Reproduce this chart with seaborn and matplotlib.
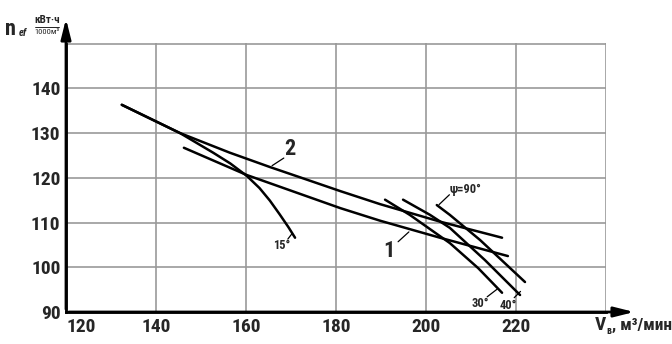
import matplotlib
matplotlib.use("Agg")
import matplotlib.pyplot as plt
from matplotlib import font_manager
import seaborn as sns
import pandas as pd

# curves (V, m3/min  ->  n, kWh/1000m3)
curve2_x = [132.4, 145.3, 156.4, 165.3, 172.0, 181.0, 189.8, 203.1, 216.9]
curve2_y = [136.3, 130.0, 125.6, 122.4, 120.1, 117.0, 114.1, 110.2, 106.6]

curve1_x = [146.2, 160.2, 172.0, 181.0, 189.8, 203.1, 218.2]
curve1_y = [126.7, 120.6, 116.4, 113.2, 110.4, 106.6, 102.5]

psi15_x = [132.4, 145.3, 152.7, 156.5, 160.2, 163.0, 165.3, 167.5, 169.4, 170.9]
psi15_y = [136.3, 130.0, 125.6, 123.2, 120.4, 117.7, 114.9, 111.8, 109.0, 106.6]

psi30_x = [190.9, 196.4, 205.3, 211.6, 216.9]
psi30_y = [115.1, 111.7, 105.4, 99.8, 94.3]

psi40_x = [194.9, 200.9, 205.3, 213.1, 220.9]
psi40_y = [115.1, 111.7, 108.8, 101.6, 93.8]

psi90_x = [202.4, 205.3, 212.0, 222.0]
psi90_y = [113.9, 111.7, 106.1, 96.7]

x_ticks = [120, 140, 160, 180, 200, 220, 240]
x_labels = ["120", "140", "160", "180", "200", "220", ""]
y_ticks = [90, 100, 110, 120, 130, 140, 150]
y_labels = ["90", "100", "110", "120", "130", "140", ""]

sns.set_theme(style="white")
names = {f.name for f in font_manager.fontManager.ttflist}
fam = "DejaVu Sans"
for cand in ["Roboto Condensed", "Liberation Sans Narrow", "Roboto"]:
    if cand in names:
        fam = cand
        break
plt.rcParams["font.family"] = [fam, "DejaVu Sans"]

rows = []
for name, xs, ys in [("2", curve2_x, curve2_y), ("1", curve1_x, curve1_y),
                     ("15", psi15_x, psi15_y), ("30", psi30_x, psi30_y),
                     ("40", psi40_x, psi40_y), ("90", psi90_x, psi90_y)]:
    for i, (a, b) in enumerate(zip(xs, ys)):
        rows.append({"curve": name, "order": i, "V": a, "n": b})
data = pd.DataFrame(rows)

fig = plt.figure(figsize=(6.72, 3.44), dpi=100)
ax = fig.add_axes([66 / 672, 32 / 344, 540 / 672, 268.5 / 344])

g = sns.lineplot(data=data, x="V", y="n", units="curve", estimator=None,
                 sort=False, color="black", lw=1.8, ax=ax)

ax.set_xlim(120, 240)
ax.set_ylim(90, 150)
ax.set_xticks(x_ticks)
ax.set_xticklabels(x_labels)
ax.set_yticks(y_ticks)
ax.set_yticklabels(y_labels)
ax.set_xlabel("")
ax.set_ylabel("")
ax.grid(True, color="#999999", lw=1.2)
ax.tick_params(length=0, labelsize=14, pad=4)
for t in ax.get_xticklabels() + ax.get_yticklabels():
    t.set_fontweight("bold")
ax.get_xticklabels()[0].set_horizontalalignment("left")
for s in ["top", "right"]:
    ax.spines[s].set_visible(False)
for s in ["left", "bottom"]:
    ax.spines[s].set_color("black")
    ax.spines[s].set_linewidth(2)

# axis arrows
arr = dict(arrowstyle="-|>,head_length=1.0,head_width=0.25", color="black", lw=2)
ax.annotate("", xy=(637, 32), xytext=(66, 32), xycoords="figure pixels",
            textcoords="figure pixels", arrowprops=arr)
ax.annotate("", xy=(66, 328), xytext=(66, 32), xycoords="figure pixels",
            textcoords="figure pixels", arrowprops=arr)

# curve labels with leaders
lbl = [("2", 169.8, 126.4, 168.4, 124.4, 165.8, 122.7, 16),
       ("1", 191.8, 103.6, 193.8, 105.7, 196.2, 107.9, 16),
       ("15°", 168.0, 104.8, 169.3, 106.3, 170.3, 107.6, 9),
       ("30°", 212.0, 92.0, 213.6, 93.4, 215.8, 95.1, 9),
       ("40°", 218.2, 91.5, 219.6, 93.2, 221.0, 94.6, 9),
       ("ψ=90°", 208.8, 117.3, 205.2, 116.2, 202.9, 114.0, 9)]
for txt, tx, ty, x0, y0, x1, y1, fs in lbl:
    ax.plot([x0, x1], [y0, y1], color="black", lw=0.9)
    ax.text(tx, ty, txt, fontsize=fs, fontweight="bold", ha="center", va="center")

# axis titles
fig.text(5 / 672, 1 - 29 / 344, "n", fontsize=16, fontweight="bold", va="center")
fig.text(19 / 672, 1 - 33 / 344, "ef", fontsize=7.5, fontstyle="italic",
         fontweight="bold", va="center")
fig.text(47 / 672, 1 - 20 / 344, "кВт·ч", fontsize=8, fontweight="bold",
         ha="center", va="center")
fig.add_artist(plt.Line2D([35 / 672, 59 / 672], [1 - 27 / 344, 1 - 27 / 344],
                          color="black", lw=0.6))
fig.text(47 / 672, 1 - 32 / 344, "1000м³", fontsize=6, ha="center", va="center")

fig.text(595 / 672, 1 - 325 / 344, "V", fontsize=14, fontweight="bold", va="center")
fig.text(606 / 672, 1 - 331 / 344, "в", fontsize=7, fontweight="bold", va="center")
fig.text(612 / 672, 1 - 325 / 344, ", м³/мин", fontsize=12.5, fontweight="bold",
         va="center")

plt.savefig("out.png", dpi=100)
